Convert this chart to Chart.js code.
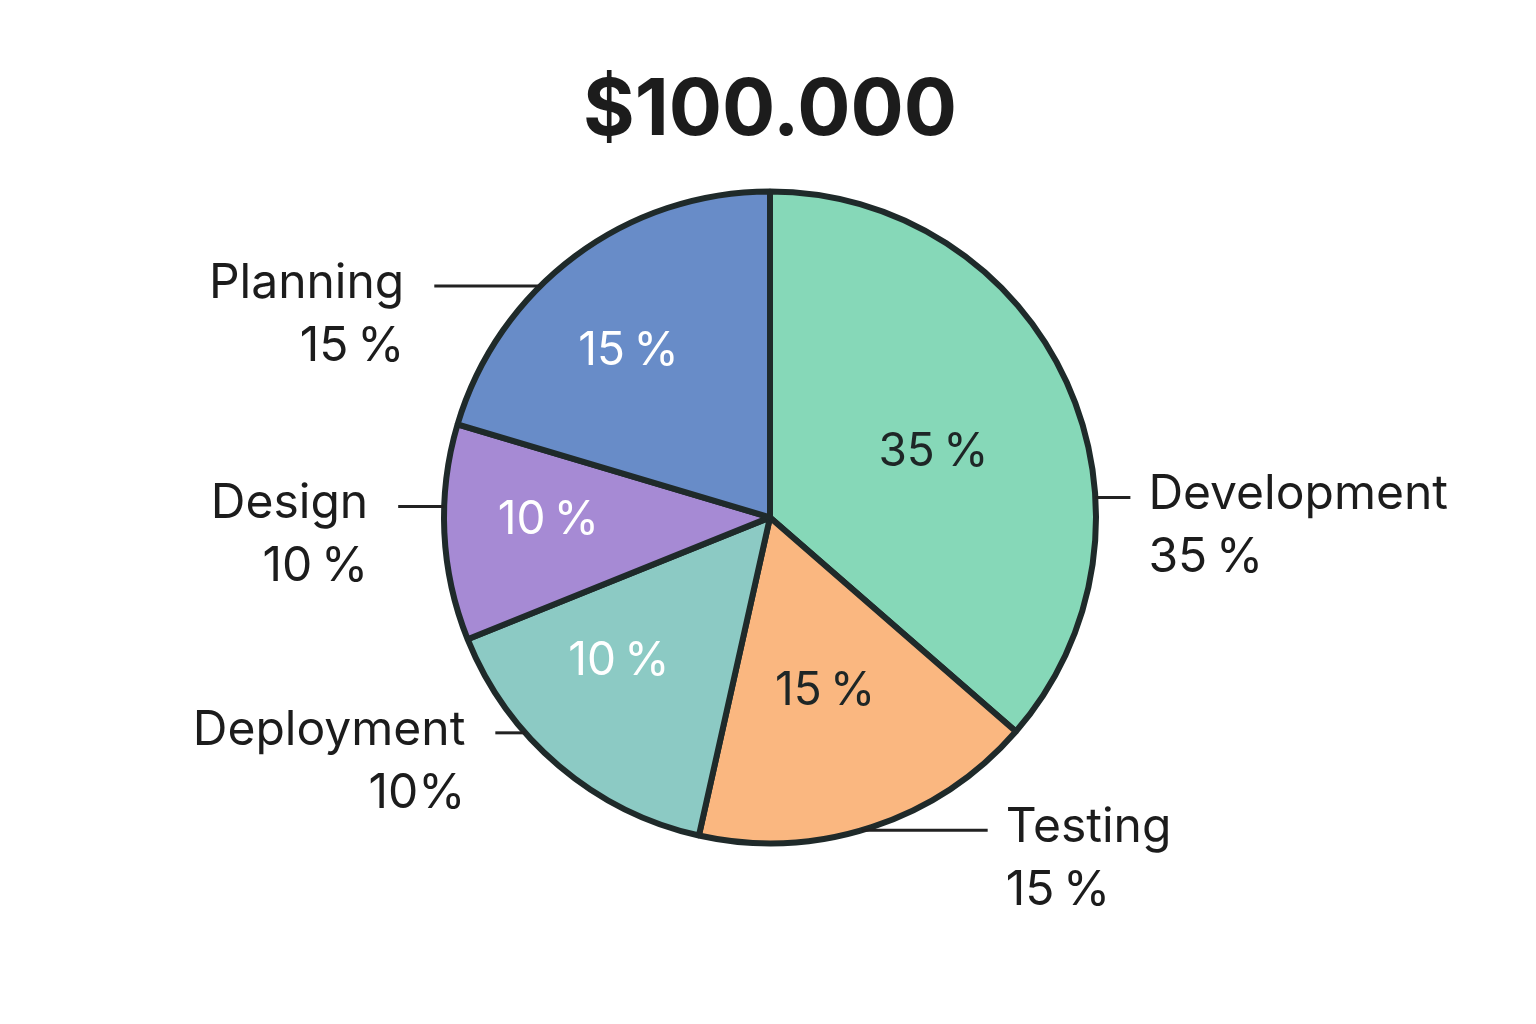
<!DOCTYPE html>
<html>
<head>
<meta charset="utf-8">
<script src="https://cdn.jsdelivr.net/npm/chart.js@4"></script>
<style>
  html, body { margin: 0; padding: 0; background: #ffffff; }
  #wrap { width: 1536px; height: 1024px; }
</style>
</head>
<body>
<div id="wrap"><canvas id="chart"></canvas></div>
<script>
// slices, clockwise from 12 o'clock
const categories = ["Development", "Testing", "Deployment", "Design", "Planning"];
// shares
const shares = [36.4, 17.1, 15.4, 10.7, 20.4];
// percentages as printed on the chart (thin space before %)
const insideLabels = ["35\u2009%", "15\u2009%", "10\u2009%", "10\u2009%", "15\u2009%"];
const outsideLabels = ["35\u2009%", "15\u2009%", "10%", "10\u2009%", "15\u2009%"];
const totalLabel = "$100.000";

const sliceColors = ["#86d8b8", "#fab780", "#8ccac4", "#a68ad4", "#688cc8"];
const insideTextColors = ["#1e2626", "#1e2626", "#ffffff", "#ffffff", "#ffffff"];

// where the text sits inside a slice (fraction of the arc, fraction of radius)
const insidePlace = [
  { along: 0.52, r: 0.54 },
  { along: 0.51, r: 0.56 },
  { along: 0.61, r: 0.64 },
  { along: 0.55, r: 0.68 },
  { along: 0.45, r: 0.67 },
];
// leader line: point on the rim (fraction of the arc) and horizontal length
const outsidePlace = [
  { along: 0.66, len: 35 },
  { along: 0.53, len: 126 },
  { along: 0.65, len: 30 },
  { along: 0.62, len: 46 },
  { along: 0.39, len: 106 },
];

const INK = "#1c1c1c";
const FONT = "Inter, 'Noto Sans', sans-serif";

const sliceLabels = {
  id: "sliceLabels",
  afterDatasetsDraw(chart) {
    const ctx = chart.ctx;
    const arcs = chart.getDatasetMeta(0).data;
    ctx.save();
    arcs.forEach((arc, i) => {
      const { x, y, startAngle, endAngle, outerRadius } = arc.getProps(
        ["x", "y", "startAngle", "endAngle", "outerRadius"], true
      );
      const span = endAngle - startAngle;

      // text inside the slice
      const a = startAngle + span * insidePlace[i].along;
      const r = outerRadius * insidePlace[i].r;
      ctx.font = "400 46px " + FONT;
      ctx.fillStyle = insideTextColors[i];
      ctx.textAlign = "center";
      ctx.textBaseline = "middle";
      ctx.fillText(insideLabels[i], x + Math.cos(a) * r, y + Math.sin(a) * r);

      // leader line and outside label
      const b = startAngle + span * outsidePlace[i].along;
      const ax = x + Math.cos(b) * outerRadius;
      const ay = y + Math.sin(b) * outerRadius;
      const right = ax > x;
      const ex = right ? ax + outsidePlace[i].len : ax - outsidePlace[i].len;
      ctx.strokeStyle = "#222222";
      ctx.lineWidth = 3;
      ctx.beginPath();
      ctx.moveTo(ax, ay);
      ctx.lineTo(ex, ay);
      ctx.stroke();

      ctx.font = "400 48px " + FONT;
      ctx.fillStyle = INK;
      ctx.textBaseline = "alphabetic";
      ctx.textAlign = right ? "left" : "right";
      const tx = right ? ex + 18 : ex - 30;
      ctx.fillText(categories[i], tx, ay + 12);
      ctx.fillText(outsideLabels[i], tx, ay + 75);
    });
    ctx.restore();
  },
};

new Chart(document.getElementById("chart"), {
  type: "pie",
  data: {
    labels: categories,
    datasets: [
      {
        data: shares,
        backgroundColor: sliceColors,
        borderColor: "#1f2a2a",
        borderWidth: 6,
        radius: 326,
        hoverOffset: 0,
      },
    ],
  },
  options: {
    responsive: true,
    maintainAspectRatio: false,
    animation: false,
    events: [],
    layout: {
      padding: { top: 0, bottom: 168, left: 4, right: 0 },
    },
    plugins: {
      legend: { display: false },
      tooltip: { enabled: false },
      title: {
        display: true,
        text: totalLabel,
        color: INK,
        font: { family: FONT, size: 79, weight: "700", lineHeight: 1.2 },
        padding: { top: 64, bottom: 20 },
      },
    },
  },
  plugins: [sliceLabels],
});
</script>
</body>
</html>
